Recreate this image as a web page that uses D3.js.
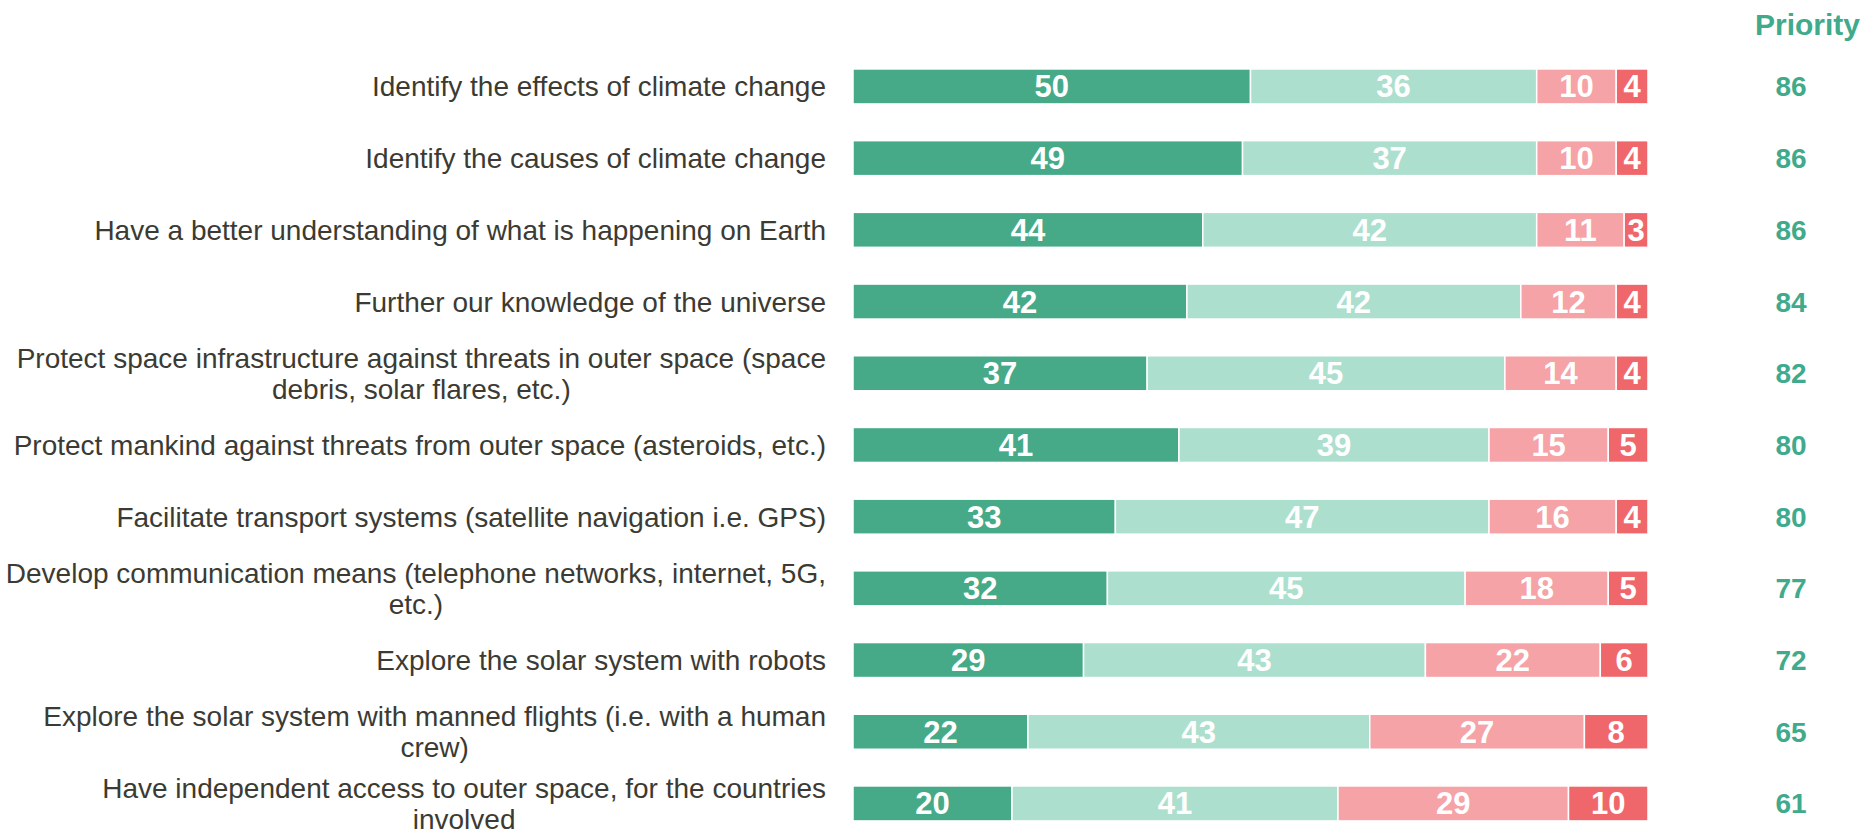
<!DOCTYPE html>
<html>
<head>
<meta charset="utf-8">
<script src="https://cdn.jsdelivr.net/npm/d3@7"></script>
<style>
  body { margin: 0; background: #fff; }
  svg { font-family: "Liberation Sans", Arial, sans-serif; }
</style>
</head>
<body>
<svg id="chart" width="1872" height="831"></svg>
<script>
// categories (one entry per line of the label)
const categories = [
    ['Identify the effects of climate change'],
    ['Identify the causes of climate change'],
    ['Have a better understanding of what is happening on Earth'],
    ['Further our knowledge of the universe'],
    ['Protect space infrastructure against threats in outer space (space', 'debris, solar flares, etc.)'],
    ['Protect mankind against threats from outer space (asteroids, etc.)'],
    ['Facilitate transport systems (satellite navigation i.e. GPS)'],
    ['Develop communication means (telephone networks, internet, 5G,', 'etc.)'],
    ['Explore the solar system with robots'],
    ['Explore the solar system with manned flights (i.e. with a human', 'crew)'],
    ['Have independent access to outer space, for the countries', 'involved']
];

// series values
const veryImportant   = [50, 49, 44, 42, 37, 41, 33, 32, 29, 22, 20];
const fairlyImportant = [36, 37, 42, 42, 45, 39, 47, 45, 43, 43, 41];
const notVery         = [10, 10, 11, 12, 14, 15, 16, 18, 22, 27, 29];
const notAtAll        = [4, 4, 3, 4, 4, 5, 4, 5, 6, 8, 10];
const priority        = [86, 86, 86, 84, 82, 80, 80, 77, 72, 65, 61];

const colors = ['#46aa89', '#addfce', '#f5a3a6', '#f0676b'];
const textColor = '#3b3b33';
const priorityColor = '#3faa8c';

const svg = d3.select('#chart');

const keys = ['a', 'b', 'c', 'd'];
const rows = categories.map((c, i) => ({
    key: i,
    a: veryImportant[i],
    b: fairlyImportant[i],
    c: notVery[i],
    d: notAtAll[i]
}));

const stacked = d3.stack().keys(keys)(rows);

const x = d3.scaleLinear().domain([0, 100]).range([853, 1648]);
const y = d3.scaleBand()
    .domain(d3.range(categories.length))
    .range([50.6, 50.6 + 71.7 * categories.length])
    .paddingInner(0.512)
    .paddingOuter(0.256);

// bars
const layers = svg.append('g')
    .selectAll('g')
    .data(stacked)
    .join('g')
    .attr('fill', (d, i) => colors[i]);

layers.selectAll('rect')
    .data(d => d)
    .join('rect')
    .attr('x', d => x(d[0]))
    .attr('y', (d, i) => y(i))
    .attr('width', d => x(d[1]) - x(d[0]))
    .attr('height', y.bandwidth())
    .attr('stroke', '#fff')
    .attr('stroke-width', 1.5);

// values inside the bars
layers.selectAll('text')
    .data(d => d)
    .join('text')
    .attr('x', d => (x(d[0]) + x(d[1])) / 2)
    .attr('y', (d, i) => y(i) + y.bandwidth() / 2 + 11)
    .attr('text-anchor', 'middle')
    .attr('fill', '#fff')
    .attr('font-weight', 'bold')
    .attr('font-size', 31)
    .text(d => d[1] - d[0]);

// category labels
const lineGap = 31;
const labels = svg.append('g')
    .selectAll('text')
    .data(categories)
    .join('text')
    .attr('fill', textColor)
    .attr('font-size', 28)
    .attr('y', (d, i) => y(i) + y.bandwidth() / 2 + 10 - (d.length - 1) * lineGap / 2);

labels.each(function(lines) {
    const t = d3.select(this);
    // first line right-aligned to the bars, further lines centred under it
    const first = t.append('tspan').attr('x', 826).attr('text-anchor', 'end').text(lines[0]);
    const w = first.node().getComputedTextLength();
    lines.slice(1).forEach(line => {
        t.append('tspan')
            .attr('x', 826 - w / 2)
            .attr('dy', lineGap)
            .attr('text-anchor', 'middle')
            .text(line);
    });
});

// priority column
svg.append('text')
    .attr('x', 1860)
    .attr('y', 35)
    .attr('text-anchor', 'end')
    .attr('fill', priorityColor)
    .attr('font-weight', 'bold')
    .attr('font-size', 30)
    .text('Priority');

svg.append('g')
    .selectAll('text')
    .data(priority)
    .join('text')
    .attr('x', 1791)
    .attr('y', (d, i) => y(i) + y.bandwidth() / 2 + 10)
    .attr('text-anchor', 'middle')
    .attr('fill', priorityColor)
    .attr('font-weight', 'bold')
    .attr('font-size', 28)
    .text(d => d);
</script>
</body>
</html>
